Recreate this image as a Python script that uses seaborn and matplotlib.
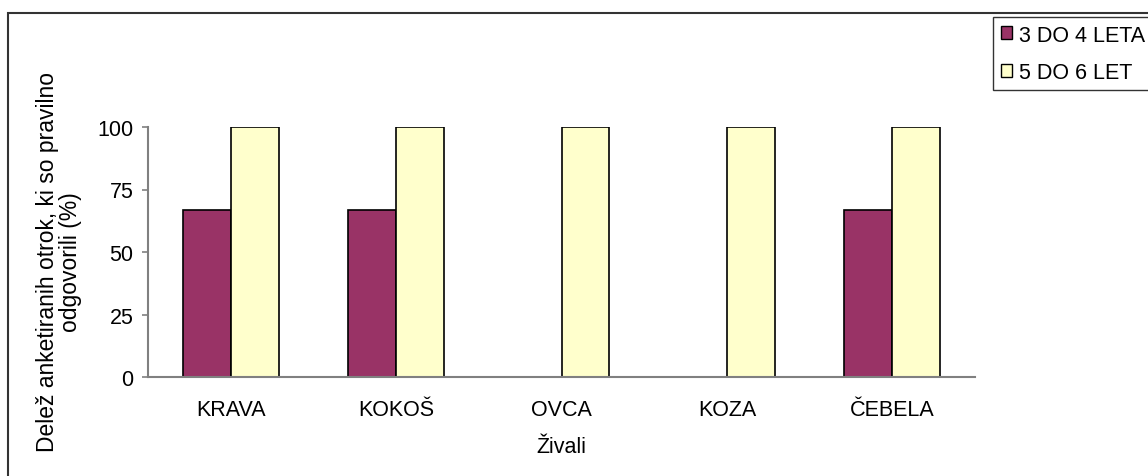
import pandas as pd
import matplotlib.pyplot as plt
import seaborn as sns
from matplotlib.patches import Rectangle

# Podatki
zivali = ["KRAVA", "KOKOŠ", "OVCA", "KOZA", "ČEBELA"]
skupine = ["3 DO 4 LETA", "5 DO 6 LET"]
delez_3_4 = [66.7, 66.7, 0, 0, 66.7]
delez_5_6 = [100, 100, 100, 100, 100]
barve = ["#993366", "#FFFFCC"]

df = pd.DataFrame({
    "Zival": zivali * 2,
    "Skupina": [skupine[0]] * len(zivali) + [skupine[1]] * len(zivali),
    "Delez": delez_3_4 + delez_5_6,
})

sns.set_style("white", {"text.color": "black", "axes.labelcolor": "black",
                        "xtick.color": "black", "ytick.color": "black"})
plt.rcParams["font.family"] = ["Liberation Sans", "DejaVu Sans"]
FS = 15.5

fig = plt.figure(figsize=(11.48, 4.77), dpi=100)
ax = fig.add_axes([148 / 1148, 1 - 378 / 477, 827 / 1148, 250 / 477])

sns.barplot(data=df, x="Zival", y="Delez", hue="Skupina", palette=barve,
            width=0.58, gap=0, edgecolor="black", linewidth=1.2,
            saturation=1, ax=ax, legend=False)

ax.set_ylim(0, 100)
ax.set_xlim(-0.5, 4.5)
ax.set_yticks([0, 25, 50, 75, 100])
ax.tick_params(axis="y", left=True, length=4.5, width=1.2, color="#808080",
               labelcolor="black", labelsize=FS, pad=6)
ax.tick_params(axis="x", bottom=False, labelsize=FS, pad=12)
for s in ["top", "right"]:
    ax.spines[s].set_visible(False)
for s in ["left", "bottom"]:
    ax.spines[s].set_color("#808080")
    ax.spines[s].set_linewidth(1.5)

ax.set_xlabel("Živali", fontsize=FS, labelpad=12)
ax.set_ylabel("Delež anketiranih otrok, ki so pravilno\nodgovorili (%)",
              fontsize=16.5, linespacing=1.0)
ax.yaxis.set_label_coords(-0.08, 0.465)

# Legenda
handles = [Rectangle((0, 0), 1, 1, facecolor=c, edgecolor="black", linewidth=1) for c in barve]
leg = fig.legend(handles, skupine, loc="upper left",
                 bbox_to_anchor=(993 / 1148, 1 - 18 / 477),
                 fontsize=FS, frameon=True, fancybox=False,
                 handlelength=0.55, handleheight=0.55, handletextpad=0.3,
                 labelspacing=0.75, borderpad=0.35, borderaxespad=0)
leg.get_frame().set_edgecolor("black")
leg.get_frame().set_linewidth(1)

# Okvir grafikona
fig.patches.append(Rectangle((8 / 1148, -0.1), 1.2, 1 - 14 / 477 + 0.1,
                             transform=fig.transFigure, fill=False,
                             edgecolor="#333333", linewidth=1.5, clip_on=False))

fig.savefig("out.png", dpi=100)
